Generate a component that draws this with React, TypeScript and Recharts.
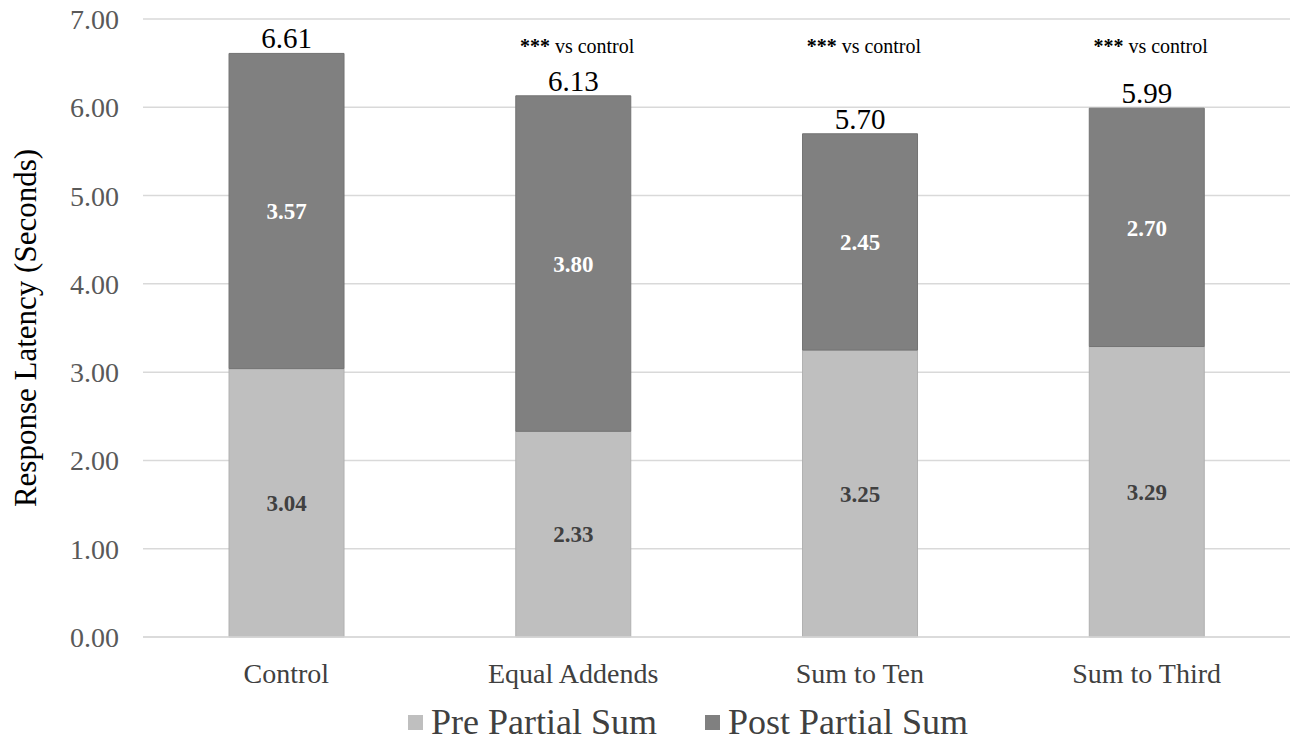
import React from "react";
import {
  BarChart,
  Bar,
  XAxis,
  YAxis,
  CartesianGrid,
  Legend,
  LabelList,
  ReferenceDot,
} from "recharts";

const categories = ["Control", "Equal Addends", "Sum to Ten", "Sum to Third"];
const preValues = [3.04, 2.33, 3.25, 3.29];
const postValues = [3.57, 3.8, 2.45, 2.7];
const totals = [6.61, 6.13, 5.7, 5.99];
const yTicks = [0, 1, 2, 3, 4, 5, 6, 7];
const annotated = ["Equal Addends", "Sum to Ten", "Sum to Third"];
const annotationLevel = 6.68;

const FONT = "'Liberation Serif', 'Times New Roman', serif";
const PRE = "#bfbfbf";
const POST = "#808080";

const data = categories.map((c, i) => ({
  name: c,
  pre: preValues[i],
  post: postValues[i],
}));

const TotalLabel = (props: any) => {
  const { x, y, width, index } = props;
  return (
    <text
      x={x + width / 2}
      y={y - 5}
      textAnchor="middle"
      fontFamily={FONT}
      fontSize={29}
      fill="#000"
    >
      {totals[index].toFixed(2)}
    </text>
  );
};

const AnnotationLabel = (props: any) => {
  const vb = props.viewBox || {};
  const cx = (vb.x || 0) + (vb.width || 0) / 2;
  const cy = (vb.y || 0) + (vb.height || 0) / 2;
  return (
    <text
      x={cx + 4}
      y={cy + 6}
      textAnchor="middle"
      fontFamily={FONT}
      fontSize={20}
      fill="#000"
    >
      <tspan fontWeight="bold">***</tspan>
      <tspan> vs control</tspan>
    </text>
  );
};

const YLabel = (props: any) => {
  const vb = props.viewBox || {};
  const cy = (vb.y || 0) + (vb.height || 0) / 2;
  const x = 36;
  return (
    <text
      x={x}
      y={cy}
      transform={`rotate(-90, ${x}, ${cy})`}
      textAnchor="middle"
      fontFamily={FONT}
      fontSize={31}
      fill="#000"
    >
      Response Latency (Seconds)
    </text>
  );
};

const LegendContent = () => (
  <div
    style={{
      display: "flex",
      alignItems: "center",
      marginLeft: 408,
      fontFamily: FONT,
      fontSize: 36,
      color: "#404040",
      height: 50,
    }}
  >
    <span
      style={{ width: 15, height: 15, background: PRE, display: "inline-block", marginRight: 8 }}
    />
    <span>Pre Partial Sum</span>
    <span
      style={{
        width: 15,
        height: 15,
        background: POST,
        display: "inline-block",
        marginLeft: 48,
        marginRight: 8,
      }}
    />
    <span>Post Partial Sum</span>
  </div>
);

export default function App() {
  return (
    <div style={{ position: "absolute", left: 0, top: 0, width: 1299, height: 747, background: "#fff" }}>
      <BarChart
        width={1299}
        height={747}
        data={data}
        margin={{ top: 19, right: 9, bottom: 0, left: 0 }}
        barCategoryGap="30%"
      >
        <CartesianGrid vertical={false} stroke="#d9d9d9" strokeWidth={1.5} />
        <XAxis
          dataKey="name"
          height={60}
          axisLine={{ stroke: "#d9d9d9", strokeWidth: 1.5 }}
          tickLine={false}
          tickMargin={20}
          tick={{ fontFamily: FONT, fontSize: 28, fill: "#404040" }}
        />
        <YAxis
          width={143}
          domain={[0, 7]}
          ticks={yTicks}
          tickFormatter={(v: number) => v.toFixed(2)}
          axisLine={false}
          tickLine={false}
          tickSize={0}
          tickMargin={24}
          tick={{ fontFamily: FONT, fontSize: 28, fill: "#595959" }}
          label={{ content: YLabel }}
        />
        <Legend verticalAlign="bottom" height={50} content={LegendContent} wrapperStyle={{ left: 0, width: 1299 }} />
        <Bar dataKey="pre" stackId="a" fill={PRE} stroke="#b0b0b0" strokeWidth={1} isAnimationActive={false}>
          <LabelList
            dataKey="pre"
            position="center"
            formatter={(v: any) => Number(v).toFixed(2)}
            style={{ fontFamily: FONT, fontSize: 23, fontWeight: "bold", fill: "#404040" }}
          />
        </Bar>
        <Bar dataKey="post" stackId="a" fill={POST} stroke="#737373" strokeWidth={1} isAnimationActive={false}>
          <LabelList
            dataKey="post"
            position="center"
            formatter={(v: any) => Number(v).toFixed(2)}
            style={{ fontFamily: FONT, fontSize: 23, fontWeight: "bold", fill: "#ffffff" }}
          />
          <LabelList dataKey="post" content={TotalLabel} />
        </Bar>
        {annotated.map((c) => (
          <ReferenceDot
            key={c}
            x={c}
            y={annotationLevel}
            r={0}
            fill="none"
            stroke="none"
            label={{ content: AnnotationLabel }}
          />
        ))}
      </BarChart>
    </div>
  );
}
